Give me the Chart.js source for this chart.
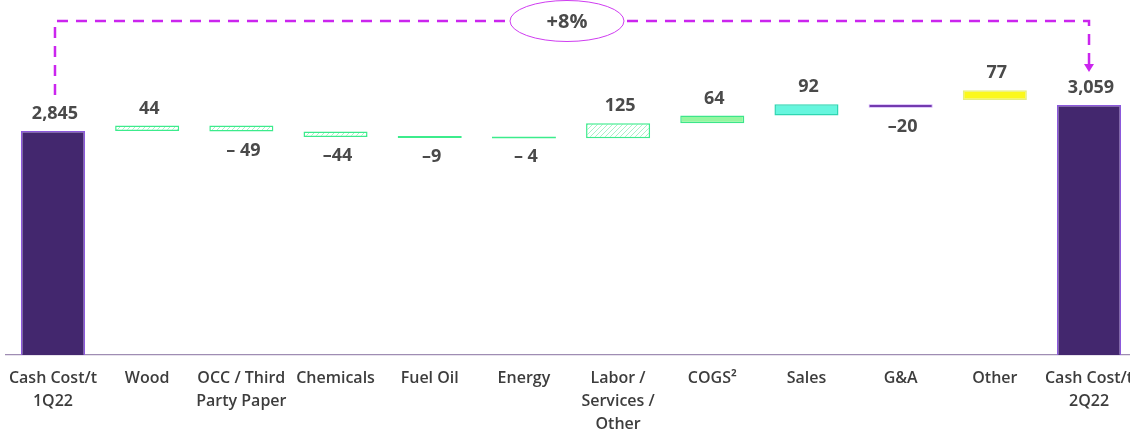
<!DOCTYPE html>
<html>
<head>
<meta charset="utf-8">
<script src="https://cdn.jsdelivr.net/npm/chart.js@4.4.1/dist/chart.umd.min.js"></script>
<style>
  html, body { margin: 0; padding: 0; background: #fff; overflow: hidden; }
  #wrap { width: 1148px; height: 432px; margin-left: -3px; }
</style>
</head>
<body>
<div id="wrap"><canvas id="bridge" width="1148" height="432"></canvas></div>
<script>
// categories (x axis)
const categories = [
  ["Cash Cost/t", "1Q22"], "Wood", ["OCC / Third", "Party Paper"], "Chemicals",
  "Fuel Oil", "Energy", ["Labor /", "Services /", "Other"], "COGS²", "Sales",
  "G&A", "Other", ["Cash Cost/t", "2Q22"]
];
// change per step (R$/t)
const deltas = [2845, 44, -49, -44, -9, -4, 125, 64, 92, -20, 77, 3059];
// labels as printed on the chart
const valueLabels = ["2,845", "44", "– 49", "–44", "–9", "– 4", "125", "64", "92", "–20", "77", "3,059"];
// bar bottoms / tops
const barLow  = [0, 2845, 2840, 2796, 2787, 2783, 2784, 2908, 2972, 3036, 3100, 0];
const barHigh = [2845, 2889, 2889, 2840, 2796, 2787, 2908, 2972, 3064, 3066, 3180, 3059];
const changeLabel = "+8%";

// hatched fill for the raw material bars
function hatch(){
  const c = document.createElement("canvas");
  c.width = 5; c.height = 5;
  const g = c.getContext("2d");
  g.fillStyle = "#fff";
  g.fillRect(0, 0, 5, 5);
  g.strokeStyle = "#a6f3c6";
  g.lineWidth = 1;
  g.beginPath();
  g.moveTo(0, 5); g.lineTo(5, 0);
  g.moveTo(-1, 1); g.lineTo(1, -1);
  g.moveTo(4, 6); g.lineTo(6, 4);
  g.stroke();
  return document.getElementById("bridge").getContext("2d").createPattern(c, "repeat");
}
const hatchFill = hatch();

const fills = ["#43276e", hatchFill, hatchFill, hatchFill, "#3cec8c", "#3cec8c", hatchFill,
               "#94f6a0", "#66f6de", "#4a0096", "#fbf81c", "#43276e"];
const borders = ["#8c58dc", "#3ceb8c", "#3ceb8c", "#3ceb8c", "#3cec8c", "#3cec8c", "#3ceb8c",
                 "#3ce68a", "#2fd6b2", "#c9a2f6", "#e4ee80", "#8c58dc"];
const borderWidths = [1.5, 1.5, 1.5, 1.5, 1.5, 1.5, 1.5, 1.5, 1.5, 1, 1.5, 1.5];

const valueText = {
  id: "valueText",
  afterDatasetsDraw(chart){
    const ctx = chart.ctx;
    const meta = chart.getDatasetMeta(0);
    ctx.save();
    ctx.font = "bold 18px 'Open Sans'";
    ctx.fillStyle = "#4a4a4a";
    ctx.textAlign = "center";
    ctx.textBaseline = "alphabetic";
    meta.data.forEach((bar, i) => {
      const top = Math.min(bar.y, bar.base);
      const bottom = Math.max(bar.y, bar.base);
      if (deltas[i] >= 0) {
        ctx.fillText(valueLabels[i], bar.x + 2, top - 12);
      } else {
        ctx.fillText(valueLabels[i], bar.x + 2, Math.min(bottom, chart.chartArea.bottom) + 24);
      }
    });

    // bracket from first to last total
    const x0 = meta.data[0].x + 2;
    const x1 = meta.data[meta.data.length - 1].x;
    const yTop = 21;
    ctx.strokeStyle = "#cb25ee";
    ctx.lineWidth = 2.5;
    ctx.setLineDash([11, 8]);
    ctx.beginPath();
    ctx.moveTo(x0, 95);
    ctx.lineTo(x0, yTop);
    ctx.lineTo(x1, yTop);
    ctx.lineTo(x1, 64);
    ctx.stroke();
    ctx.setLineDash([]);
    ctx.fillStyle = "#cb25ee";
    ctx.beginPath();
    ctx.moveTo(x1 - 5, 64);
    ctx.lineTo(x1 + 5, 64);
    ctx.lineTo(x1, 72);
    ctx.closePath();
    ctx.fill();

    // bubble with total change
    const cx = 570;
    ctx.beginPath();
    ctx.ellipse(cx, yTop, 57, 20.5, 0, 0, Math.PI * 2);
    ctx.fillStyle = "#fff";
    ctx.fill();
    ctx.lineWidth = 1;
    ctx.strokeStyle = "#cf3cf0";
    ctx.stroke();
    ctx.fillStyle = "#4a4a4a";
    ctx.font = "bold 20px 'Open Sans'";
    ctx.textBaseline = "middle";
    ctx.fillText(changeLabel, cx, yTop + 1);
    ctx.restore();
  }
};

new Chart("bridge", {
  type: "bar",
  data: {
    labels: categories,
    datasets: [{
      data: barLow.map((lo, i) => [lo, barHigh[i]]),
      backgroundColor: fills,
      borderColor: borders,
      borderWidth: borderWidths,
      borderSkipped: false,
      minBarLength: 2,
      barPercentage: 0.68,
      categoryPercentage: 1
    }]
  },
  options: {
    responsive: false,
    animation: false,
    devicePixelRatio: 1,
    layout: { padding: { top: 15, left: 3, right: 4, bottom: 0 } },
    plugins: { legend: { display: false }, tooltip: { enabled: false } },
    scales: {
      y: { display: false, min: 1000, max: 3800 },
      x: {
        grid: { display: false, drawTicks: false },
        border: { display: true, color: "#9f8db3", width: 1.2 },
        ticks: {
          color: "#3d3d3d",
          font: { family: "'Open Sans'", size: 16, weight: "600", lineHeight: 1.44 },
          padding: 12,
          maxRotation: 0,
          autoSkip: false
        },
        afterFit: s => { s.height = 77; }
      }
    }
  },
  plugins: [valueText]
});
</script>
</body>
</html>
